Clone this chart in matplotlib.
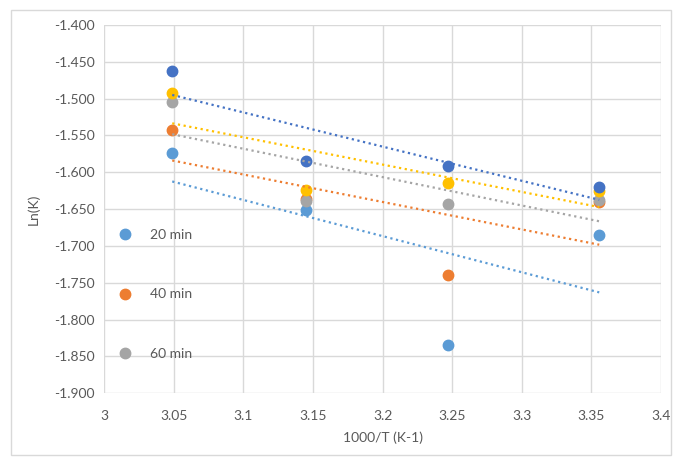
import matplotlib
matplotlib.use('Agg')
import matplotlib.pyplot as plt
from matplotlib.patches import Rectangle
import numpy as np

plt.rcParams['font.family'] = ['Lato', 'DejaVu Sans']

# 1000/T for T = 328, 318, 308, 298 K
x = [3.0488, 3.1447, 3.2468, 3.3557]

labels = ['20 min', '40 min', '60 min', '80 min', '100 min']
colors = ['#5B9BD5', '#ED7D31', '#A5A5A5', '#FFC000', '#4472C4']
y20 = [-1.574, -1.651, -1.835, -1.685]
y40 = [-1.543, -1.637, -1.740, -1.640]
y60 = [-1.505, -1.639, -1.643, -1.638]
y80 = [-1.493, -1.624, -1.615, -1.625]
y100 = [-1.462, -1.585, -1.592, -1.620]
series = [y20, y40, y60, y80, y100]

xticks = [3, 3.05, 3.1, 3.15, 3.2, 3.25, 3.3, 3.35, 3.4]
xtick_labels = ['3', '3.05', '3.1', '3.15', '3.2', '3.25', '3.3', '3.35', '3.4']
yticks = np.arange(-1.9, -1.399, 0.05)

fig = plt.figure(figsize=(6.73, 4.62), dpi=100)
fig.patches.append(Rectangle((0.017, 0.015), 0.98, 0.963, transform=fig.transFigure,
                             fill=False, edgecolor='#D9D9D9', linewidth=1))
ax = fig.add_axes([0.155, 0.149, 0.827, 0.797])

handles = []
for ys, c, lab in zip(series, colors, labels):
    h, = ax.plot(x, ys, 'o', color=c, markersize=7.5, label=lab, zorder=3)
    handles.append(h)

xs = np.array(x)
for ys, c in zip(series, colors):
    k, b = np.polyfit(xs, ys, 1)
    ax.plot(xs[[0, -1]], k * xs[[0, -1]] + b, linestyle=(0, (1, 1.6)), color=c,
            linewidth=1.6, zorder=4)

ax.set_xlim(3, 3.4)
ax.set_ylim(-1.9, -1.4)
ax.set_xticks(xticks)
ax.set_xticklabels(xtick_labels)
ax.set_yticks(yticks)
ax.set_yticklabels(['%.3f' % v for v in yticks])
ax.grid(True, color='#D9D9D9', linewidth=1)
ax.set_axisbelow(True)
for s in ax.spines.values():
    s.set_visible(False)
ax.tick_params(length=0, labelsize=10, labelcolor='#595959', pad=7)
ax.tick_params(axis='x', pad=12)

ax.set_xlabel('1000/T (K-1)', fontsize=10, color='#595959', labelpad=7)
ax.set_ylabel('Ln(K)', fontsize=10, color='#595959', labelpad=10)

ax.legend(handles=handles[:3], loc='upper left', bbox_to_anchor=(-0.01, 0.48),
          frameon=False, fontsize=10, labelcolor='#595959', labelspacing=3.42,
          handletextpad=0.8, markerscale=1.0)

plt.savefig('out.png', dpi=100)
